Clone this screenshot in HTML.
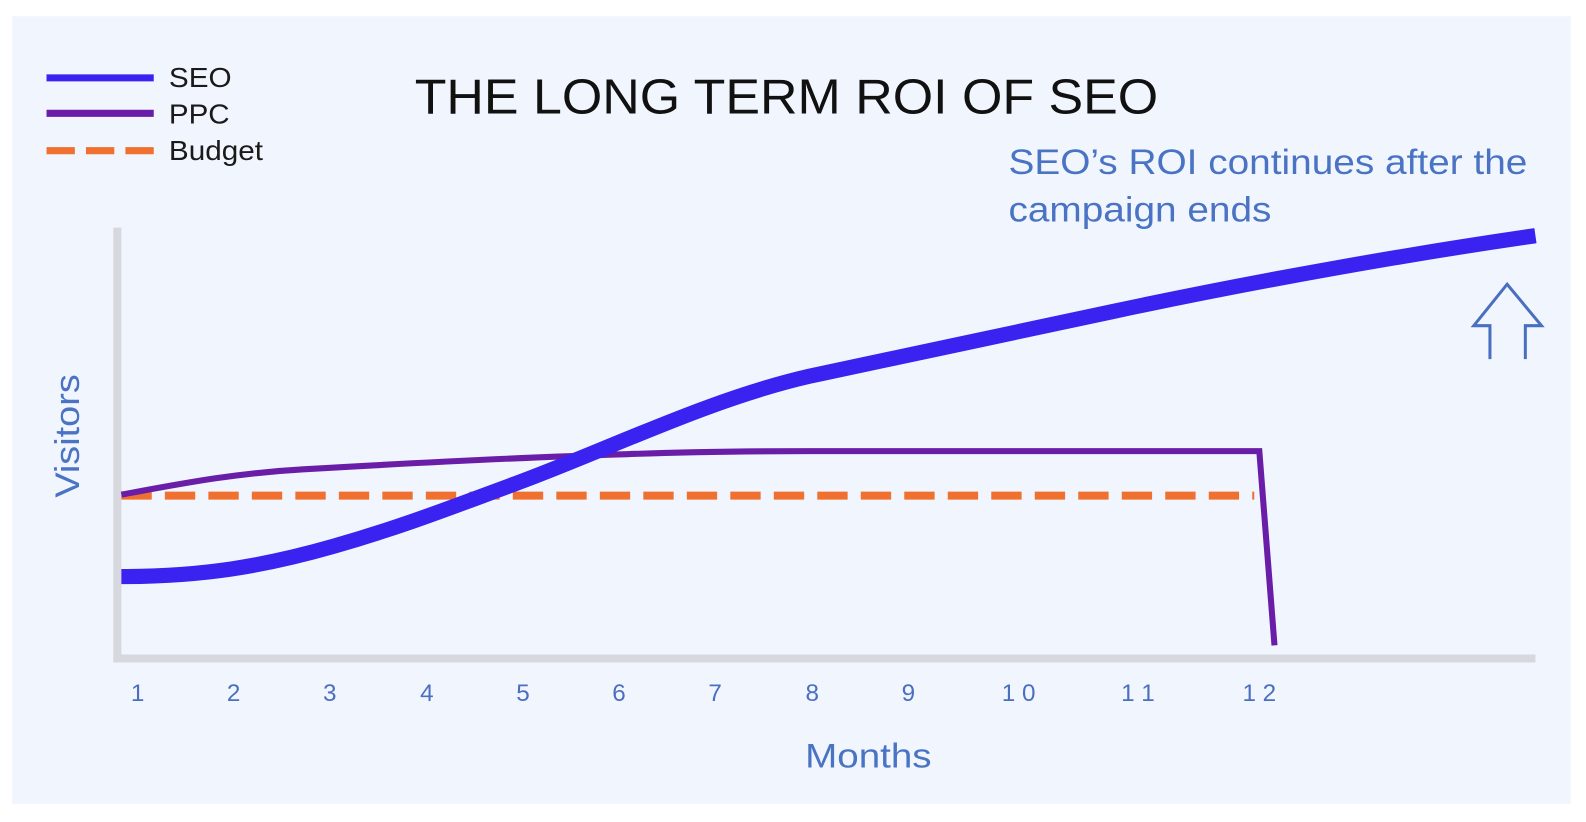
<!DOCTYPE html>
<html><head><meta charset="utf-8"><style>
body{margin:0;background:#fff;width:1586px;height:822px;overflow:hidden}
svg{display:block}
text{font-family:"Liberation Sans",Arial,sans-serif}
</style></head><body>
<svg width="1586" height="822" viewBox="0 0 1586 822">
<g transform="scale(1.0115)">
<rect x="12" y="16" width="1541" height="779" fill="#f1f6fe"/>
<!-- legend -->
<line x1="46" y1="77" x2="152" y2="77" stroke="#3a22f0" stroke-width="7"/>
<line x1="46" y1="112" x2="152" y2="112" stroke="#6a1ea8" stroke-width="7"/>
<line x1="46" y1="149" x2="152" y2="149" stroke="#f07030" stroke-width="7" stroke-dasharray="28,11"/>
<text x="167" y="86" font-size="27" fill="#1a1a1a" textLength="62" lengthAdjust="spacingAndGlyphs">SEO</text>
<text x="167" y="122" font-size="27" fill="#1a1a1a" textLength="60" lengthAdjust="spacingAndGlyphs">PPC</text>
<text x="167" y="158" font-size="27" fill="#1a1a1a" textLength="93" lengthAdjust="spacingAndGlyphs">Budget</text>
<text x="410" y="112" font-size="49" fill="#111" textLength="735" lengthAdjust="spacingAndGlyphs">THE LONG TERM ROI OF SEO</text>
<text x="997" y="172" font-size="35" fill="#4a73c4" textLength="513" lengthAdjust="spacingAndGlyphs">SEO’s ROI continues after the</text>
<text x="997" y="219" font-size="35" fill="#4a73c4" textLength="260" lengthAdjust="spacingAndGlyphs">campaign ends</text>
<!-- axes -->
<polyline points="116,225 116,651 1518,651" fill="none" stroke="#d6d8de" stroke-width="8"/>
<!-- budget -->
<line x1="120" y1="490" x2="1240" y2="490" stroke="#f07030" stroke-width="8" stroke-dasharray="30,13"/>
<!-- PPC -->
<path d="M120,489 C180,478 230,468 300,464 C420,457 520,452 620,449 C700,446 760,446 800,446 L1245,446 L1260,638" fill="none" stroke="#6a1ea8" stroke-width="6" stroke-linejoin="miter"/>
<!-- SEO -->
<path d="M120,570 C200,570 260,560 330,540 C400,520 450,500 510,478 C600,445 700,395 800,372 C900,350 1000,330 1100,308 C1250,276 1400,250 1518,233" fill="none" stroke="#3a22f0" stroke-width="15"/>
<!-- arrow -->
<path d="M1473,355 L1473,322 L1457,322 L1490,281 L1524,322 L1508,322 L1508,355" fill="none" stroke="#4a6fc0" stroke-width="3"/>
<!-- ticks -->
<g font-size="24" fill="#4a6fc0" text-anchor="middle">
<text x="136" y="693">1</text><text x="231" y="693">2</text><text x="326" y="693">3</text>
<text x="422" y="693">4</text><text x="517" y="693">5</text><text x="612" y="693">6</text>
<text x="707" y="693">7</text><text x="803" y="693">8</text><text x="898" y="693">9</text>
<text x="1007" y="693">1 0</text><text x="1125" y="693">1 1</text><text x="1245" y="693">1 2</text>
</g>
<text x="796" y="759" font-size="34" fill="#4a73c4" textLength="125" lengthAdjust="spacingAndGlyphs">Months</text>
<text transform="translate(78,492) rotate(-90)" font-size="34" fill="#4a73c4" textLength="122" lengthAdjust="spacingAndGlyphs">Visitors</text>
</g>
</svg>
</body></html>
